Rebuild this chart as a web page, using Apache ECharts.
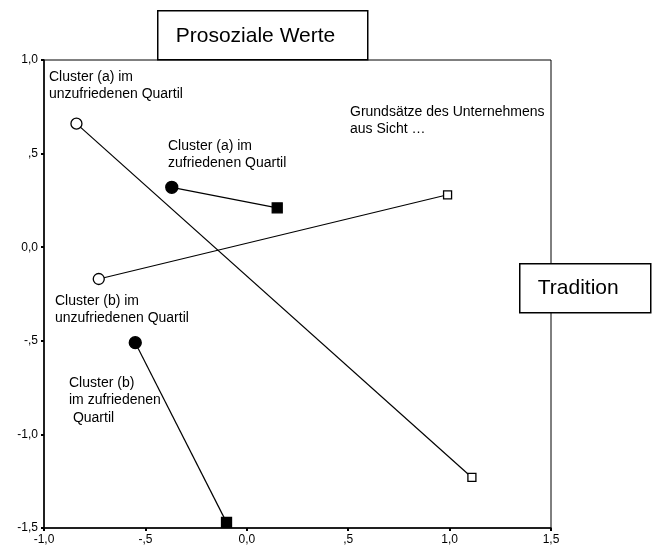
<!DOCTYPE html>
<html>
<head>
<meta charset="utf-8">
<script src="https://cdn.jsdelivr.net/npm/echarts@6/dist/echarts.min.js"></script>
<style>
html,body{margin:0;padding:0;background:#fff;}
#chart{width:653px;height:549px;}
</style>
</head>
<body>
<div id="chart"></div>
<script>
// ---- data ----
var xTicks = [-1.0, -0.5, 0.0, 0.5, 1.0, 1.5];
var xTickLabels = ['-1,0', '-,5', '0,0', ',5', '1,0', '1,5'];
var yTicks = [-1.5, -1.0, -0.5, 0.0, 0.5, 1.0];
var yTickLabels = ['-1,5', '-1,0', '-,5', '0,0', ',5', '1,0'];

// each cluster: [x, y] of "Prosoziale Werte" point (circle) and "Tradition" point (square)
var clusterAUnzufrieden = [[-0.84, 0.66], [1.11, -1.23]];
var clusterAZufrieden = [[-0.37, 0.32], [0.15, 0.21]];
var clusterBUnzufrieden = [[-0.73, -0.17], [0.99, 0.28]];
var clusterBZufrieden = [[-0.55, -0.51], [-0.10, -1.47]];

var annotations = [
  'Cluster (a) im\nunzufriedenen Quartil',
  'Cluster (a) im\nzufriedenen Quartil',
  'Grundsätze des Unternehmens\naus Sicht …',
  'Cluster (b) im\nunzufriedenen Quartil',
  'Cluster (b)\nim zufriedenen\n Quartil'
];
var boxTitles = ['Prosoziale Werte', 'Tradition'];

// ---- chart ----
function lookup(ticks, labels) {
  return function (v) {
    for (var i = 0; i < ticks.length; i++) {
      if (Math.abs(ticks[i] - v) < 1e-9) return labels[i];
    }
    return '';
  };
}

var FONT = '"Liberation Sans", Arial, sans-serif';

function pairSeries(name, pts, filled) {
  return {
    name: name,
    type: 'line',
    z: 3,
    lineStyle: { color: '#000', width: 1.2 },
    itemStyle: { color: filled ? '#000' : '#fff', borderColor: '#000', borderWidth: 1.3 },
    symbol: 'circle',
    data: [
      { value: pts[0], symbol: 'circle', symbolSize: filled ? 12 : 11 },
      { value: pts[1], symbol: 'rect', symbolSize: filled ? 10 : 8 }
    ],
    animation: false,
    silent: true
  };
}

function note(text, left, top) {
  return { type: 'text', left: left, top: top, z: 10,
    style: { text: text, font: '14px ' + FONT, fill: '#000', lineHeight: 17.5 } };
}

var chart = echarts.init(document.getElementById('chart'), null, { renderer: 'canvas' });

var option = {
  backgroundColor: '#fff',
  animation: false,
  grid: {
    left: 44, right: 102, top: 60, bottom: 21,
    show: true, borderColor: '#000', borderWidth: 1, backgroundColor: 'transparent'
  },
  xAxis: {
    type: 'value', min: -1.0, max: 1.5, interval: 0.5,
    axisLine: { show: true, onZero: false, lineStyle: { color: '#000', width: 1.5 } },
    axisTick: { show: true, length: 3, lineStyle: { color: '#000', width: 2 } },
    splitLine: { show: false },
    axisLabel: { color: '#000', fontFamily: FONT, fontSize: 12, margin: 6, formatter: lookup(xTicks, xTickLabels) }
  },
  yAxis: {
    type: 'value', min: -1.5, max: 1.0, interval: 0.5,
    axisLine: { show: true, onZero: false, lineStyle: { color: '#000', width: 1.5 } },
    axisTick: { show: true, length: 3, lineStyle: { color: '#000', width: 2 } },
    splitLine: { show: false },
    axisLabel: { color: '#000', fontFamily: FONT, fontSize: 12, margin: 6, formatter: lookup(yTicks, yTickLabels) }
  },
  series: [
    pairSeries('Cluster (a) unzufrieden', clusterAUnzufrieden, false),
    pairSeries('Cluster (a) zufrieden', clusterAZufrieden, true),
    pairSeries('Cluster (b) unzufrieden', clusterBUnzufrieden, false),
    pairSeries('Cluster (b) zufrieden', clusterBZufrieden, true)
  ],
  graphic: [
    note(annotations[0], 49, 68),
    note(annotations[1], 168, 137),
    note(annotations[2], 350, 103),
    note(annotations[3], 55, 292),
    note(annotations[4], 69, 374),
    {
      type: 'group', left: 157, top: 10, z: 20,
      children: [
        { type: 'rect', shape: { x: 0, y: 0, width: 210, height: 49 }, style: { fill: '#fff', stroke: '#000', lineWidth: 1.5 } },
        { type: 'text', x: 18, y: 25, style: { text: boxTitles[0], font: '21px ' + FONT, fill: '#000', align: 'left', verticalAlign: 'middle' } }
      ]
    },
    {
      type: 'group', left: 519, top: 263, z: 20,
      children: [
        { type: 'rect', shape: { x: 0, y: 0, width: 131, height: 49 }, style: { fill: '#fff', stroke: '#000', lineWidth: 1.5 } },
        { type: 'text', x: 18, y: 24, style: { text: boxTitles[1], font: '21px ' + FONT, fill: '#000', align: 'left', verticalAlign: 'middle' } }
      ]
    }
  ]
};
chart.setOption(option);
</script>
</body>
</html>
